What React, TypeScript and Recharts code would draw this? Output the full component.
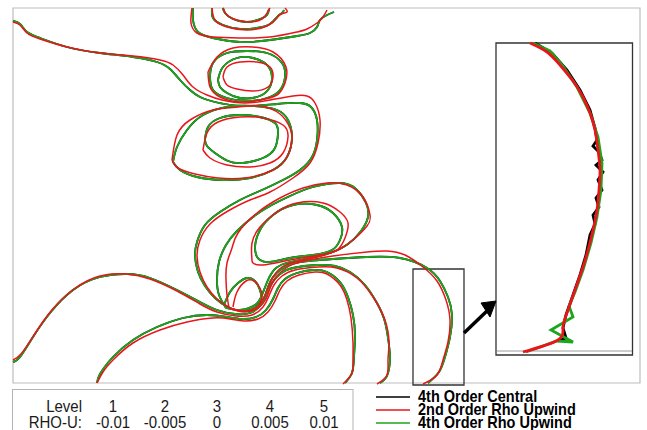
import React from 'react';
import { ScatterChart, Scatter, XAxis, YAxis, ReferenceArea, ReferenceLine, Legend } from 'recharts';

type P = [number, number];

// ---- contour traces (plot units) ----
const c1Green: P[] = [[13,21],[20,24],[27,32],[40,38],[67,47],[100,53],[133,57],[157,62],[170,69],[180,80],[190,90],[200,97],[215,102],[243,106],[277,104],[300,103],[311,107],[317,120],[317,140],[312,157],[300,170],[283,180],[262,190],[240,200],[220,212],[205,225],[197,242],[195,256],[198,272],[205,286],[215,298],[228,307],[243,311],[256,307],[264,298],[268,287],[273,277],[283,268],[300,262],[333,259],[367,257],[400,258],[427,268],[440,281],[448,297],[452,315],[450,337],[445,357],[439,372],[428,383]];
const c1Red: P[] = [[13,22],[20,25],[27,33],[40,39],[67,47],[100,53],[133,56],[160,60],[173,65],[183,75],[193,87],[207,95],[222,100],[245,103],[270,100],[293,96],[307,96],[315,103],[320,120],[318,143],[310,163],[293,178],[270,192],[250,200],[228,211],[210,224],[200,240],[197,256],[200,272],[207,287],[217,299],[230,308],[245,312],[258,308],[266,299],[270,288],[276,277],[286,268],[300,262],[333,256],[367,252],[387,251],[405,255],[423,267],[437,281],[446,300],[450,320],[448,342],[443,360],[437,375],[423,384]];
const b1Green: P[] = [[13,362],[20,357],[33,337],[50,313],[73,290],[100,277],[127,274],[150,278],[177,290],[200,302],[217,310],[235,314],[250,313],[261,305],[267,294],[272,283],[280,274],[293,268],[317,265],[335,266],[350,272],[365,285],[377,303],[385,322],[389,345],[390,360],[387,376],[380,383]];
const b1Red: P[] = [[13,360],[21,354],[34,335],[51,311],[74,289],[100,276],[127,274],[150,279],[177,291],[200,304],[217,312],[236,316],[252,315],[263,307],[269,296],[274,285],[282,276],[295,270],[318,267],[337,268],[357,278],[373,297],[385,320],[389,343],[388,360],[387,375],[377,384]];
const b2Green: P[] = [[97,383],[100,374],[113,357],[133,340],[157,327],[183,318],[207,315],[227,317],[242,319],[256,317],[266,310],[273,299],[278,288],[285,279],[297,273],[313,270],[327,272],[340,282],[348,297],[353,315],[355,335],[354,357],[352,373],[345,383]];
const b2Red: P[] = [[97,383],[103,372],[113,360],[133,343],[160,330],[187,322],[213,318],[230,319],[244,321],[258,319],[268,312],[275,301],[280,290],[287,281],[299,275],[315,272],[327,274],[340,285],[347,300],[351,318],[353,343],[353,360],[352,373],[343,384]];
const g1Green: P[] = [[226,308],[219,295],[217,280],[219,262],[226,245],[237,231],[253,217],[270,206],[290,196],[313,187],[340,183],[356,189],[366,203],[368,217],[361,231],[348,244],[330,253],[310,258],[290,262],[276,268],[268,280],[262,295],[255,305],[240,310],[226,308]];
const g1Red: P[] = [[229,308],[227,295],[226,280],[227,263],[232,248],[238,233],[257,213],[280,198],[303,188],[327,183],[347,185],[363,197],[370,215],[367,226],[353,240],[338,250],[320,256],[298,261],[282,267],[272,279],[266,293],[260,304],[247,311],[229,308]];
const g2Green: P[] = [[257,257],[255,247],[260,230],[273,215],[293,205],[317,205],[333,213],[342,227],[340,240],[332,250],[313,255],[290,258],[270,262],[260,260],[257,257]];
const g2Red: P[] = [[252,260],[252,243],[260,227],[277,212],[297,203],[323,203],[340,212],[348,223],[345,238],[337,250],[320,255],[290,260],[263,265],[253,263],[252,260]];
const bumpGreen: P[] = [[224,305],[230,292],[238,283],[247,278],[255,281],[260,290],[261,300],[257,308]];
const bumpRed: P[] = [[233,307],[237,292],[246,281],[254,281],[260,288],[262,297],[259,305]];
const m1Green: P[] = [[210,77],[213,63],[227,53],[247,51],[267,53],[282,63],[285,77],[280,90],[267,98],[247,101],[227,98],[213,90],[210,77]];
const m1Red: P[] = [[208,72],[217,57],[233,48],[253,47],[273,52],[286,67],[285,83],[277,95],[260,100],[240,102],[220,97],[210,87],[208,72]];
const m2Green: P[] = [[218,80],[223,67],[237,58],[253,58],[267,65],[272,78],[268,90],[257,97],[240,98],[227,93],[220,87],[218,80]];
const m2Red: P[] = [[223,77],[227,67],[240,62],[257,62],[270,67],[273,77],[268,87],[253,91],[237,89],[227,85],[223,77]];
const l1Green: P[] = [[173,162],[177,147],[187,130],[203,115],[227,107],[253,106],[277,110],[288,120],[292,137],[287,157],[273,170],[250,178],[223,180],[197,177],[180,170],[173,162]];
const l1Red: P[] = [[172,160],[177,135],[190,120],[213,110],[238,107],[260,106],[280,114],[290,128],[292,140],[287,157],[273,170],[245,178],[218,178],[195,174],[178,168],[172,160]];
const l2Green: P[] = [[205,140],[208,127],[220,118],[240,115],[260,117],[275,123],[278,133],[275,148],[263,158],[243,163],[228,161],[215,153],[207,146],[205,140]];
const l2Red: P[] = [[203,150],[207,133],[218,122],[240,117],[263,118],[283,125],[288,137],[283,153],[270,163],[250,167],[227,165],[210,158],[203,150]];
const t1Green: P[] = [[223,8],[225,13],[233,19],[247,22],[260,19],[267,15],[269,9]];
const t1Red: P[] = [[223,8],[227,15],[237,20],[250,22],[262,19],[267,13],[270,8]];
const t2Green: P[] = [[212,8],[213,18],[223,25],[240,29],[257,28],[270,24],[277,17],[282,13],[284,10]];
const t2Red: P[] = [[212,8],[215,20],[227,27],[247,30],[267,26],[277,18],[281,14],[287,12],[285,8]];
const t3Green: P[] = [[193,8],[193,20],[198,32],[213,38],[240,42],[270,40],[297,36],[310,33],[317,27],[320,20],[327,15],[334,12]];
const t3Red: P[] = [[192,8],[191,23],[197,33],[213,37],[240,38],[270,37],[297,32],[307,29],[317,23],[323,17],[327,10]];

// ---- zoomed inset traces ----
const insetBlack: P[] = [[535,43],[552,53],[567,70],[580,90],[590,110],[595,128],[597,140],[593,146],[599,152],[602,160],[596,165],[603,172],[598,180],[602,190],[596,198],[599,207],[593,215],[595,224],[590,235],[586,255],[580,275],[573,295],[566,315],[563,328],[566,338],[558,341]];
const insetGreen: P[] = [[533,43],[550,51],[563,66],[577,87],[590,113],[598,137],[602,163],[601,190],[597,217],[591,243],[583,270],[575,292],[569,306],[573,317],[551,330],[573,342],[557,341],[526,352]];
const insetRed: P[] = [[530,43],[547,52],[560,65],[573,81],[583,97],[590,113],[595,130],[598,150],[600,170],[599,190],[597,210],[593,230],[588,250],[582,270],[575,290],[568,310],[563,327],[558,340],[523,352]];
const arrowShaft: P[] = [[464,333],[488,310]];
const arrowHead: P[] = [[481,303],[496,301],[490,317]];

// ---- legend text ----
const levelNames = ['1', '2', '3', '4', '5'];
const rhoValues = ['-0.01', '-0.005', '0', '0.005', '0.01'];
const seriesNames = ['4th Order Central', '2nd Order Rho Upwind', '4th Order Rho Upwind'];
const seriesColors = ['#000000', '#e8161b', '#1ea51e'];

const greenSet: P[][] = [c1Green, b1Green, b2Green, g1Green, g2Green, bumpGreen, m1Green, m2Green, l1Green, l2Green, t1Green, t2Green, t3Green];
const redSet: P[][] = [c1Red, b1Red, b2Red, g1Red, g2Red, bumpRed, m1Red, m2Red, l1Red, l2Red, t1Red, t2Red, t3Red];

const toPts = (a: P[]) => a.map(([x, y]) => ({ x, y }));
const NoDot = () => <g />;

const colX = [113, 165, 217, 270, 324];
const FONT = "'Liberation Sans', Arial, sans-serif";

const T = ({ x, y, anchor, children }: { x: number; y: number; anchor?: 'start' | 'middle' | 'end'; children: React.ReactNode }) => (
  <text transform={`translate(${x},${y}) scale(1,1.1)`} textAnchor={anchor || 'start'}>{children}</text>
);

const LegendBlock = () => (
  <svg width={647} height={46} style={{ display: 'block' }}>
    <rect x={12.5} y={3.5} width={340.5} height={46} fill="none" stroke="#b4b4b4" />
    <g fontFamily={FONT} fontSize={15} fill="#1a1a1a">
      <T x={82} y={26} anchor="end">Level</T>
      <T x={82} y={41.5} anchor="end">RHO-U:</T>
      {levelNames.map((t, i) => (
        <T key={'l' + i} x={colX[i]} y={26} anchor="middle">{t}</T>
      ))}
      {rhoValues.map((t, i) => (
        <T key={'r' + i} x={colX[i]} y={41.5} anchor="middle">{t}</T>
      ))}
    </g>
    <g fontFamily={FONT} fontSize={14.5} fontWeight="bold" fill="#000">
      {seriesNames.map((n, i) => (
        <g key={n}>
          <line x1={376} x2={410} y1={11 + i * 13} y2={11 + i * 13} stroke={seriesColors[i]} strokeWidth={1.6} />
          <T x={418} y={15.5 + i * 13}>{n}</T>
        </g>
      ))}
    </g>
  </svg>
);

export default function App() {
  return (
    <div style={{ position: 'absolute', left: 0, top: 0, background: '#fff' }}>
      <ScatterChart width={647} height={430} margin={{ top: 0, right: 0, bottom: 0, left: 0 }}>
        <XAxis type="number" dataKey="x" domain={[0, 647]} hide allowDataOverflow />
        <YAxis type="number" dataKey="y" domain={[0, 430]} reversed hide allowDataOverflow />
        <ReferenceArea x1={13} x2={640} y1={8} y2={383} fill="none" fillOpacity={0} stroke="#bdbdbd" strokeWidth={1.2} ifOverflow="visible" />
        <ReferenceArea x1={413} x2={464} y1={269} y2={385} fill="none" fillOpacity={0} stroke="#333" strokeWidth={1.3} ifOverflow="visible" />
        <ReferenceArea x1={496} x2={632.5} y1={43} y2={355} fill="#fff" fillOpacity={1} stroke="#333" strokeWidth={1.3} ifOverflow="visible" />
        <ReferenceLine segment={[{ x: 497, y: 351 }, { x: 632, y: 351 }]} stroke="#9a9a9a" strokeWidth={1} ifOverflow="visible" />
        {greenSet.map((d, i) => (
          <Scatter key={'k' + i} data={toPts(d)} fill="none" line={{ stroke: seriesColors[0], strokeWidth: 1.8 }} lineJointType="natural" shape={NoDot} legendType="none" isAnimationActive={false} />
        ))}
        {greenSet.map((d, i) => (
          <Scatter key={'g' + i} data={toPts(d)} fill="none" line={{ stroke: seriesColors[2], strokeWidth: 1.8 }} lineJointType="natural" shape={NoDot} legendType="none" isAnimationActive={false} />
        ))}
        {redSet.map((d, i) => (
          <Scatter key={'r' + i} data={toPts(d)} fill="none" line={{ stroke: seriesColors[1], strokeWidth: 1.5 }} lineJointType="natural" shape={NoDot} legendType="none" isAnimationActive={false} />
        ))}
        <Scatter data={toPts(insetBlack)} fill="none" line={{ stroke: seriesColors[0], strokeWidth: 2.8 }} lineJointType="linear" shape={NoDot} legendType="none" isAnimationActive={false} />
        <Scatter data={toPts(insetGreen)} fill="none" line={{ stroke: seriesColors[2], strokeWidth: 2.8 }} lineJointType="linear" shape={NoDot} legendType="none" isAnimationActive={false} />
        <Scatter data={toPts(insetRed)} fill="none" line={{ stroke: seriesColors[1], strokeWidth: 2.8 }} lineJointType="natural" shape={NoDot} legendType="none" isAnimationActive={false} />
        <Scatter data={toPts(arrowShaft)} fill="none" line={{ stroke: '#000', strokeWidth: 3.5 }} lineJointType="linear" shape={NoDot} legendType="none" isAnimationActive={false} />
        <Scatter data={toPts(arrowHead)} fill="none" line={{ stroke: '#000', strokeWidth: 1, fill: '#000' }} lineJointType="linearClosed" shape={NoDot} legendType="none" isAnimationActive={false} />
        <Legend layout="vertical" align="center" verticalAlign="middle" content={LegendBlock} wrapperStyle={{ left: 0, top: 386, width: 647, height: 46 }} />
      </ScatterChart>
    </div>
  );
}
